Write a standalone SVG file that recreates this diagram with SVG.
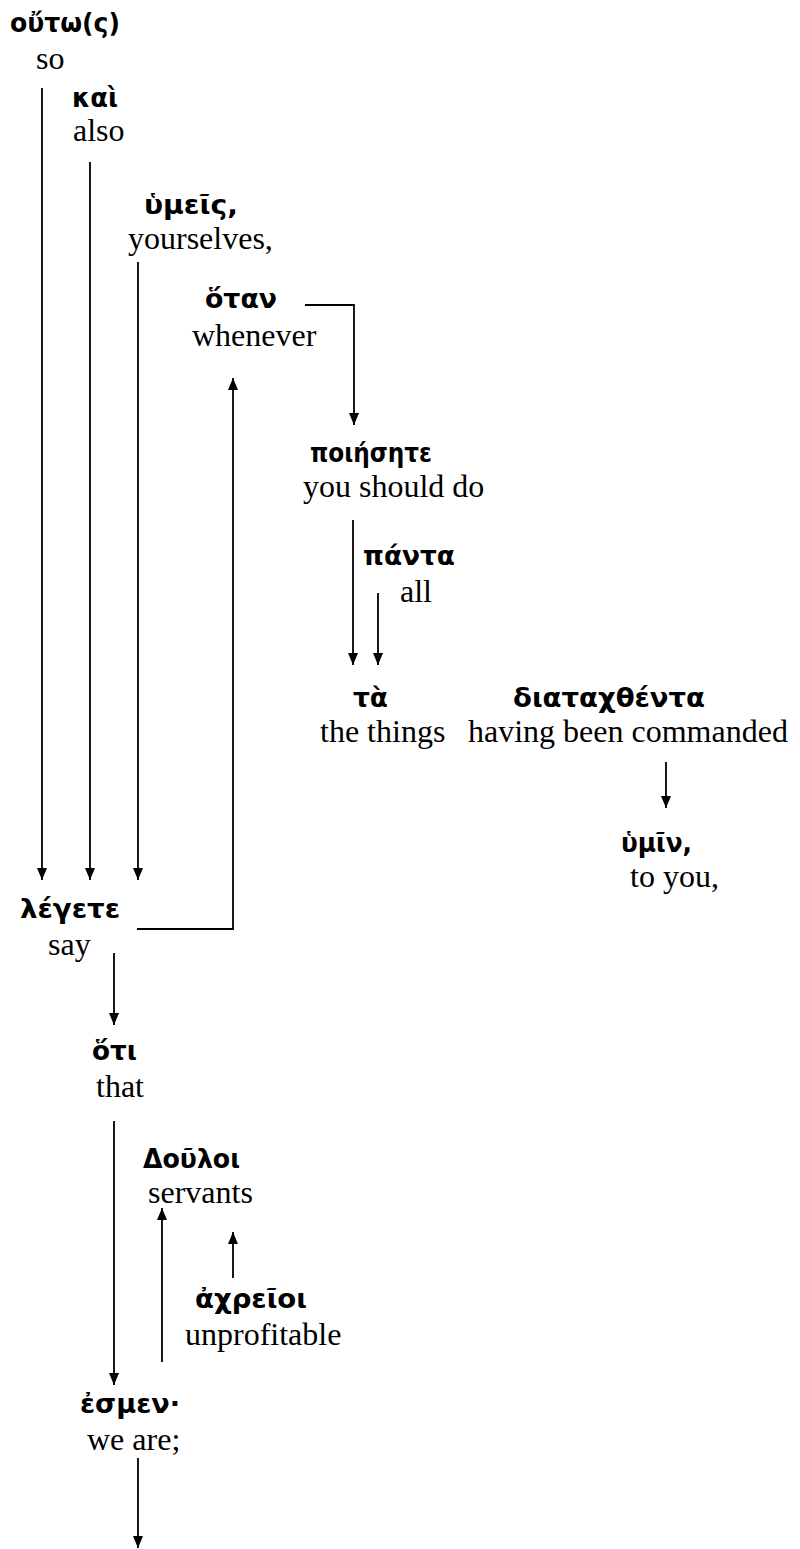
<svg xmlns="http://www.w3.org/2000/svg" width="800" height="1549" viewBox="0 0 800 1549">
  <style>
    .gk { font-family: "DejaVu Sans", "Noto Sans", sans-serif; font-weight: bold; font-size: 27px; fill: #000; }
    .en { font-family: "Liberation Serif", "Times New Roman", serif; font-size: 32px; fill: #000; }
    .link { fill: none; stroke: #000; stroke-width: 1.8; }
  </style>
  <defs>
    <marker id="arrow" viewBox="0 0 12 10" refX="12" refY="5" markerWidth="12" markerHeight="10" markerUnits="userSpaceOnUse" orient="auto">
      <path d="M0,0 L12,5 L0,10 z" fill="#000"/>
    </marker>
  </defs>
  <rect width="800" height="1549" fill="#fff"/>

  <!-- dependency connectors -->
  <g id="connectors">
    <line class="link" x1="42" y1="88" x2="42" y2="880" marker-end="url(#arrow)"/>
    <line class="link" x1="90" y1="162" x2="90" y2="880" marker-end="url(#arrow)"/>
    <line class="link" x1="138" y1="262" x2="138" y2="880" marker-end="url(#arrow)"/>
    <polyline class="link" points="137,929 233,929 233,378" marker-end="url(#arrow)"/>
    <polyline class="link" points="305,305 354,305 354,425" marker-end="url(#arrow)"/>
    <line class="link" x1="353" y1="520" x2="353" y2="665" marker-end="url(#arrow)"/>
    <line class="link" x1="378" y1="593" x2="378" y2="665" marker-end="url(#arrow)"/>
    <line class="link" x1="666" y1="762" x2="666" y2="808" marker-end="url(#arrow)"/>
    <line class="link" x1="114" y1="953" x2="114" y2="1025" marker-end="url(#arrow)"/>
    <line class="link" x1="114" y1="1121" x2="114" y2="1385" marker-end="url(#arrow)"/>
    <line class="link" x1="162" y1="1362" x2="162" y2="1208" marker-end="url(#arrow)"/>
    <line class="link" x1="233" y1="1278" x2="233" y2="1232" marker-end="url(#arrow)"/>
    <line class="link" x1="138" y1="1458" x2="138" y2="1548" marker-end="url(#arrow)"/>
  </g>

  <!-- word nodes: Greek word above its gloss -->
  <g id="houtos">
    <text class="gk" x="10" y="32" textLength="110" lengthAdjust="spacingAndGlyphs">οὔτω(ς)</text>
    <text class="en" x="36" y="69">so</text>
  </g>
  <g id="kai">
    <text class="gk" x="72" y="107" textLength="46" lengthAdjust="spacingAndGlyphs">καὶ</text>
    <text class="en" x="73" y="141">also</text>
  </g>
  <g id="humeis">
    <text class="gk" x="144" y="214" textLength="94" lengthAdjust="spacingAndGlyphs">ὑμεῖς,</text>
    <text class="en" x="128" y="249">yourselves,</text>
  </g>
  <g id="hotan">
    <text class="gk" x="205" y="308" textLength="72" lengthAdjust="spacingAndGlyphs">ὅταν</text>
    <text class="en" x="192" y="346">whenever</text>
  </g>
  <g id="poiesete">
    <text class="gk" x="310" y="462" textLength="122" lengthAdjust="spacingAndGlyphs">ποιήσητε</text>
    <text class="en" x="303" y="497">you should do</text>
  </g>
  <g id="panta">
    <text class="gk" x="363" y="565" textLength="92" lengthAdjust="spacingAndGlyphs">πάντα</text>
    <text class="en" x="400" y="602">all</text>
  </g>
  <g id="ta">
    <text class="gk" x="353" y="707" textLength="35" lengthAdjust="spacingAndGlyphs">τὰ</text>
    <text class="en" x="320" y="742">the things</text>
  </g>
  <g id="diatachthenta">
    <text class="gk" x="513" y="707" textLength="192" lengthAdjust="spacingAndGlyphs">διαταχθέντα</text>
    <text class="en" x="468" y="742">having been commanded</text>
  </g>
  <g id="humin">
    <text class="gk" x="621" y="852" textLength="71" lengthAdjust="spacingAndGlyphs">ὑμῖν,</text>
    <text class="en" x="630" y="887">to you,</text>
  </g>
  <g id="legete">
    <text class="gk" x="20" y="918" textLength="100" lengthAdjust="spacingAndGlyphs">λέγετε</text>
    <text class="en" x="48" y="955">say</text>
  </g>
  <g id="hoti">
    <text class="gk" x="92" y="1060" textLength="45" lengthAdjust="spacingAndGlyphs">ὅτι</text>
    <text class="en" x="96" y="1097">that</text>
  </g>
  <g id="douloi">
    <text class="gk" x="143" y="1168" textLength="97" lengthAdjust="spacingAndGlyphs">Δοῦλοι</text>
    <text class="en" x="148" y="1203">servants</text>
  </g>
  <g id="achreioi">
    <text class="gk" x="195" y="1308" textLength="112" lengthAdjust="spacingAndGlyphs">ἀχρεῖοι</text>
    <text class="en" x="185" y="1345">unprofitable</text>
  </g>
  <g id="esmen">
    <text class="gk" x="80" y="1413" textLength="100" lengthAdjust="spacingAndGlyphs">ἐσμεν·</text>
    <text class="en" x="87" y="1450">we are;</text>
  </g>
</svg>
